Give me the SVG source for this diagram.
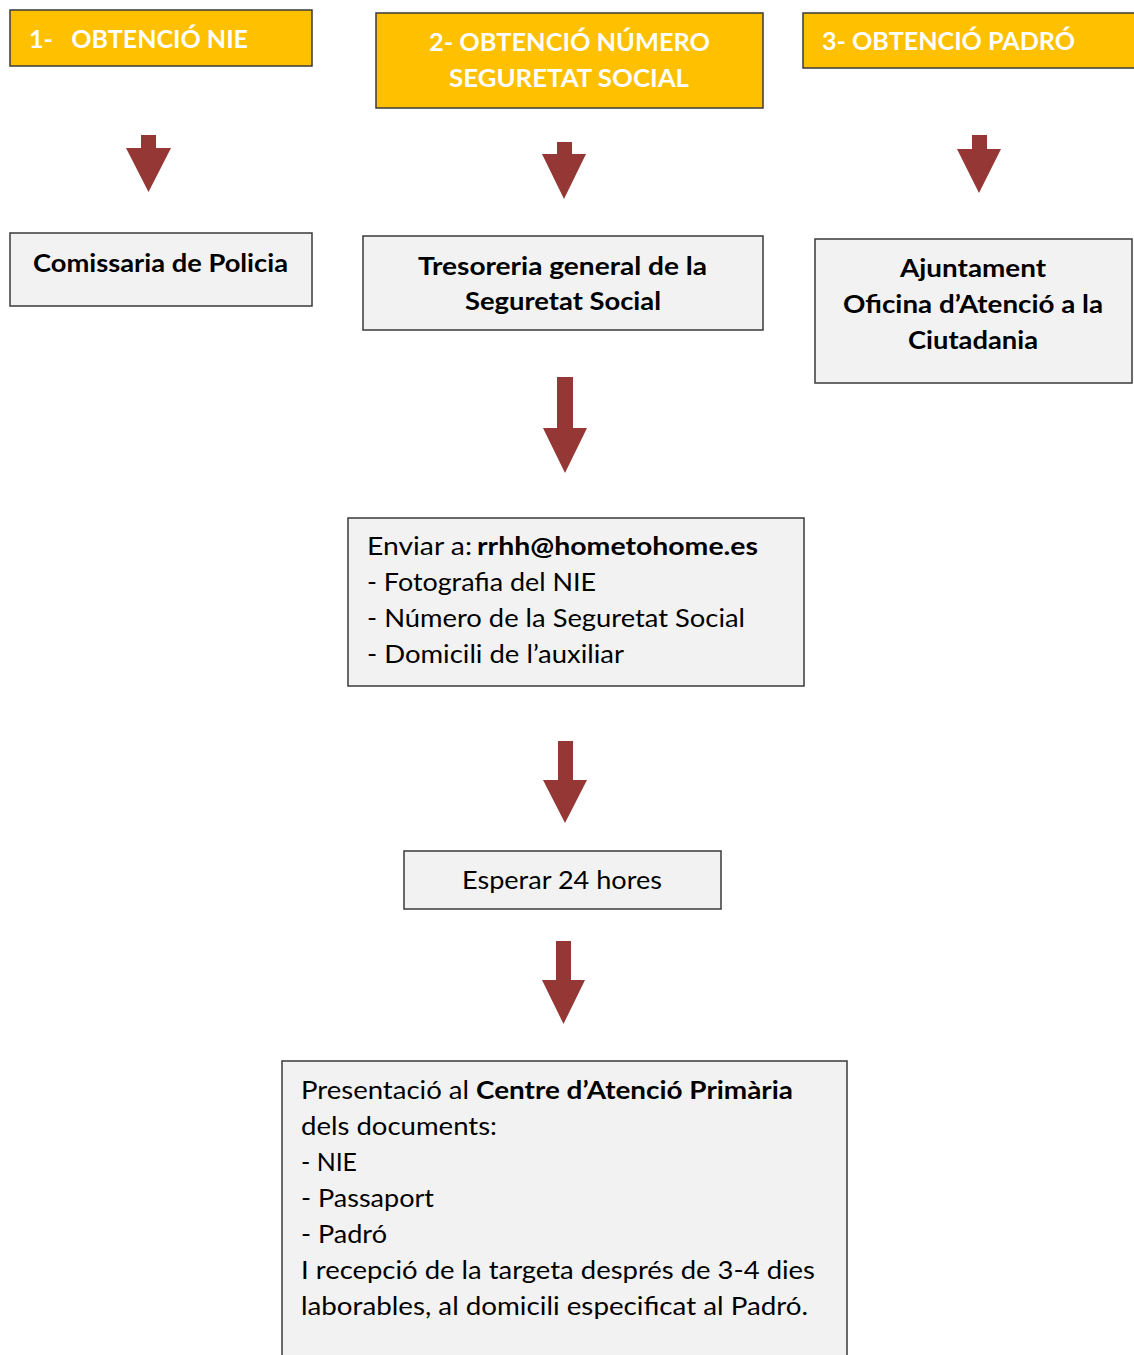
<svg xmlns="http://www.w3.org/2000/svg" width="1134" height="1355" viewBox="0 0 1134 1355">
<style>
.title{fill:#FFC000;stroke:#3a3a3a;stroke-width:1.5}
.box{fill:#F2F2F2;stroke:#3a3a3a;stroke-width:1.5}
.tt{font-family:Lato,"Open Sans","Liberation Sans",sans-serif;font-weight:bold;font-size:25px;fill:#FFFFFF}
.bl{font-family:Lato,"Open Sans","Liberation Sans",sans-serif;font-weight:bold;font-size:25.5px;fill:#000000}
.rg{font-family:Lato,"Open Sans","Liberation Sans",sans-serif;font-weight:normal;font-size:25.5px;fill:#000000}
.arrow{fill:#953735}
</style>
<rect width="1134" height="1355" fill="#FFFFFF"/>
<g id="n1">
<rect class="title" x="10" y="10" width="302" height="56"/>
<text class="tt" x="29" y="48" style="white-space:pre" textLength="219" lengthAdjust="spacingAndGlyphs">1-   OBTENCIÓ NIE</text>
</g>
<g id="n2">
<rect class="title" x="376" y="13" width="387" height="95"/>
<text class="tt" x="429" y="51" textLength="281" lengthAdjust="spacingAndGlyphs">2- OBTENCIÓ NÚMERO</text>
<text class="tt" x="449" y="87" textLength="240" lengthAdjust="spacingAndGlyphs">SEGURETAT SOCIAL</text>
</g>
<g id="n3">
<rect class="title" x="803" y="13" width="335" height="55"/>
<text class="tt" x="822" y="50" textLength="253" lengthAdjust="spacingAndGlyphs">3- OBTENCIÓ PADRÓ</text>
</g>
<g id="n4">
<rect class="box" x="10" y="233" width="302" height="73"/>
<text class="bl" x="33" y="272" textLength="255" lengthAdjust="spacingAndGlyphs">Comissaria de Policia</text>
</g>
<g id="n5">
<rect class="box" x="363" y="236" width="400" height="94"/>
<text class="bl" x="418" y="275" textLength="289" lengthAdjust="spacingAndGlyphs">Tresoreria general de la</text>
<text class="bl" x="465" y="310" textLength="196" lengthAdjust="spacingAndGlyphs">Seguretat Social</text>
</g>
<g id="n6">
<rect class="box" x="815" y="239" width="317" height="144"/>
<text class="bl" x="900" y="277" textLength="146" lengthAdjust="spacingAndGlyphs">Ajuntament</text>
<text class="bl" x="843" y="313" textLength="260" lengthAdjust="spacingAndGlyphs">Oficina d’Atenció a la</text>
<text class="bl" x="908" y="349" textLength="130" lengthAdjust="spacingAndGlyphs">Ciutadania</text>
</g>
<g id="n7">
<rect class="box" x="348" y="518" width="456" height="168"/>
<text class="rg" x="367" y="555" textLength="105" lengthAdjust="spacingAndGlyphs">Enviar a:</text>
<text class="bl" x="477" y="555" textLength="281" lengthAdjust="spacingAndGlyphs">rrhh@hometohome.es</text>
<text class="rg" x="367" y="591" textLength="229" lengthAdjust="spacingAndGlyphs">- Fotografia del NIE</text>
<text class="rg" x="367" y="627" textLength="378" lengthAdjust="spacingAndGlyphs">- Número de la Seguretat Social</text>
<text class="rg" x="367" y="663" textLength="257" lengthAdjust="spacingAndGlyphs">- Domicili de l’auxiliar</text>
</g>
<g id="n8">
<rect class="box" x="404" y="851" width="317" height="58"/>
<text class="rg" x="462" y="889" textLength="200" lengthAdjust="spacingAndGlyphs">Esperar 24 hores</text>
</g>
<g id="n9">
<rect class="box" x="282" y="1061" width="565" height="300"/>
<text class="rg" x="301" y="1099" textLength="168" lengthAdjust="spacingAndGlyphs">Presentació al</text>
<text class="bl" x="476" y="1099" textLength="317" lengthAdjust="spacingAndGlyphs">Centre d’Atenció Primària</text>
<text class="rg" x="301" y="1135" textLength="196" lengthAdjust="spacingAndGlyphs">dels documents:</text>
<text class="rg" x="301" y="1171" textLength="56" lengthAdjust="spacingAndGlyphs">- NIE</text>
<text class="rg" x="301" y="1207" textLength="133" lengthAdjust="spacingAndGlyphs">- Passaport</text>
<text class="rg" x="301" y="1243" textLength="86" lengthAdjust="spacingAndGlyphs">- Padró</text>
<text class="rg" x="301" y="1279" textLength="514" lengthAdjust="spacingAndGlyphs">I recepció de la targeta després de 3-4 dies</text>
<text class="rg" x="301" y="1315" textLength="507" lengthAdjust="spacingAndGlyphs">laborables, al domicili especificat al Padró.</text>
</g>
<g id="connectors">
<path class="arrow" d="M141,135 H156 V148 H171 L148.5,192 L126,148 H141 Z"/>
<path class="arrow" d="M557,142 H572 V154 H586 L564,199 L542,154 H557 Z"/>
<path class="arrow" d="M972,135 H987 V149 H1001 L979,193 L957,149 H972 Z"/>
<path class="arrow" d="M557,377 H573 V428 H587 L565,473 L543,428 H557 Z"/>
<path class="arrow" d="M558,741 H573 V780 H587 L565,823 L543,780 H558 Z"/>
<path class="arrow" d="M556,941 H571 V980 H585 L563.5,1024 L542,980 H556 Z"/>
</g>
</svg>
